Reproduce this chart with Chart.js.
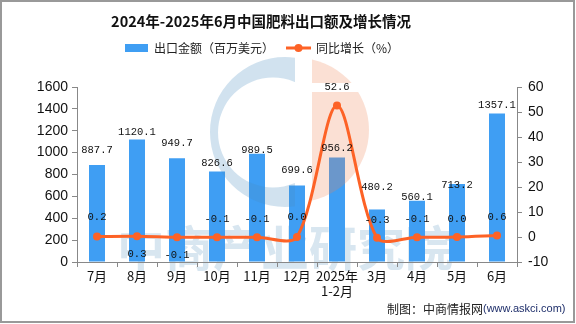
<!DOCTYPE html>
<html>
<head>
<meta charset="utf-8">
<script src="https://cdn.jsdelivr.net/npm/chart.js@4.4.1/dist/chart.umd.min.js"></script>
<style>
  html, body { margin: 0; padding: 0; background: #fff; }
  #wrap { width: 576px; height: 324px; }
</style>
</head>
<body>
<div id="wrap"><canvas id="myChart" width="576" height="324"></canvas></div>
<script>
// data
const months = ["7月", "8月", "9月", "10月", "11月", "12月", ["2025年", "1-2月"], "3月", "4月", "5月", "6月"];
const exportValue = [887.7, 1120.1, 949.7, 826.6, 989.5, 699.6, 956.2, 480.2, 560.1, 713.2, 1357.1];
const growthRate = [0.2, 0.3, -0.1, -0.1, -0.1, 0.0, 52.6, -0.3, -0.1, 0.0, 0.6];
const leftTicks = [0, 200, 400, 600, 800, 1000, 1200, 1400, 1600];
const rightTicks = [-10, 0, 10, 20, 30, 40, 50, 60];

// label placement (pixels, relative to the mark) - styling only
const barLabelShift = [-15, -7, -15, -8, -4, -15, -9, -22, -4, 1, -8];
const lineLabelShift = [-19, 18, 18, -18, -18, -20, -18, -18, -18, -18, -18];

const BAR_COLOR = "#3f9ef3";
const LINE_COLOR = "#fd6226";
const AXIS_COLOR = "#888";
const cjk = "'Noto Sans CJK SC', sans-serif";

function drawLogo(ctx) {
  ctx.save();
  ctx.globalAlpha = 0.25;
  //blue crescent, left part
  ctx.save();
  ctx.beginPath();
  ctx.rect(0, 0, 295, 324);
  ctx.clip();
  ctx.beginPath();
  ctx.moveTo(360, 132);
  ctx.arc(285, 132, 75, 0, Math.PI * 2);
  ctx.moveTo(328, 132.5);
  ctx.arc(273, 132.5, 55, 0, Math.PI * 2);
  ctx.fillStyle = "rgb(70,140,190)";
  ctx.fill("evenodd");
  ctx.restore();
  //orange half, right part with a white stripe
  ctx.beginPath();
  ctx.rect(312, 0, 264, 83);
  ctx.rect(312, 92, 264, 232);
  ctx.clip();
  ctx.beginPath();
  ctx.arc(297, 130, 72, 0, Math.PI * 2);
  ctx.fillStyle = "rgb(239,131,83)";
  ctx.fill();
  ctx.restore();
}

const backgroundPlugin = {
  id: "background",
  beforeDraw: (chart) => {
    const ctx = chart.ctx;
    ctx.save();
    ctx.fillStyle = "#fff";
    ctx.fillRect(0, 0, chart.width, chart.height);
    // watermark text sits behind everything
    ctx.font = "bold 48px " + cjk;
    ctx.fillStyle = "#d8e6f0";
    ctx.textAlign = "center";
    ctx.textBaseline = "middle";
    ctx.fillText("中商产业研究院", 285, 248);
    ctx.restore();
  },
  afterDatasetDraw: (chart, args) => {
    // logo goes over the bars but under the line
    if (args.meta.type === "bar") drawLogo(chart.ctx);
  },
};

const labelPlugin = {
  id: "valueLabels",
  afterDatasetsDraw: (chart) => {
    const ctx = chart.ctx;
    ctx.save();
    ctx.font = "10.5px 'Liberation Mono', monospace";
    ctx.fillStyle = "#111";
    ctx.textAlign = "center";
    ctx.textBaseline = "middle";
    chart.getDatasetMeta(1).data.forEach((bar, i) => {
      ctx.fillText(exportValue[i].toFixed(1), bar.x, bar.y + barLabelShift[i]);
    });
    chart.getDatasetMeta(0).data.forEach((pt, i) => {
      ctx.fillText(growthRate[i].toFixed(1), pt.x, pt.y + lineLabelShift[i]);
    });
    ctx.restore();
  },
  afterDraw: (chart) => {
    const ctx = chart.ctx;
    ctx.save();
    //title
    ctx.fillStyle = "#111";
    ctx.textAlign = "center";
    ctx.textBaseline = "middle";
    ctx.font = "bold 14.5px " + cjk;
    ctx.fillText("2024年-2025年6月中国肥料出口额及增长情况", 261, 21);

    //legend
    ctx.textAlign = "left";
    ctx.font = "12px " + cjk;
    ctx.fillStyle = BAR_COLOR;
    ctx.fillRect(125, 44, 23, 8);
    ctx.fillStyle = "#222";
    ctx.fillText("出口金额（百万美元）", 154, 48.5);
    ctx.strokeStyle = LINE_COLOR;
    ctx.lineWidth = 3;
    ctx.beginPath();
    ctx.moveTo(286, 48);
    ctx.lineTo(311, 48);
    ctx.stroke();
    ctx.fillStyle = LINE_COLOR;
    ctx.beginPath();
    ctx.arc(298.5, 48, 4, 0, Math.PI * 2);
    ctx.fill();
    ctx.fillStyle = "#222";
    ctx.fillText("同比增长（%）", 316, 48.5);

    //source line
    ctx.font = "12px " + cjk;
    ctx.fillText("制图：中商情报网", 387, 309);
    const w = ctx.measureText("制图：中商情报网").width;
    ctx.font = "11px 'Liberation Sans', sans-serif";
    ctx.fillStyle = "#1f2f6b";
    ctx.fillText("(www.askci.com)", 387 + w, 309);

    //frame
    ctx.strokeStyle = "#999";
    ctx.lineWidth = 2;
    ctx.strokeRect(1, 1, 573, 321);
    ctx.restore();
  },
};

const ctx = document.getElementById("myChart");

new Chart(ctx, {
  type: "bar",
  plugins: [backgroundPlugin, labelPlugin],
  data: {
    labels: months,
    datasets: [
      {
        type: "line",
        label: "同比增长（%）",
        data: growthRate,
        yAxisID: "y1",
        borderColor: LINE_COLOR,
        backgroundColor: LINE_COLOR,
        borderWidth: 3,
        pointRadius: 4,
        pointBackgroundColor: LINE_COLOR,
        pointBorderWidth: 0,
        tension: 0.3,
        order: 0,
      },
      {
        type: "bar",
        label: "出口金额（百万美元）",
        data: exportValue,
        yAxisID: "y",
        backgroundColor: BAR_COLOR,
        barPercentage: 0.4,
        categoryPercentage: 1.0,
        order: 1,
      },
    ],
  },
  options: {
    responsive: false,
    devicePixelRatio: 1,
    animation: false,
    layout: { padding: { top: 87, left: 0, right: 0, bottom: 0 } },
    plugins: {
      legend: { display: false },
      title: { display: false },
      tooltip: { enabled: false },
    },
    scales: {
      x: {
        grid: { drawOnChartArea: false, drawTicks: true, tickLength: 5, color: AXIS_COLOR, offset: true },
        border: { color: AXIS_COLOR },
        ticks: { color: "#111", font: { family: cjk, size: 13, lineHeight: 1.15 }, padding: 2, maxRotation: 0, autoSkip: false },
        afterFit: (scale) => { scale.height = 62; },
      },
      y: {
        position: "left",
        min: 0,
        max: 1600,
        afterBuildTicks: (scale) => { scale.ticks = leftTicks.map((v) => ({ value: v })); },
        grid: { drawOnChartArea: false, drawTicks: true, tickLength: 5, color: AXIS_COLOR },
        border: { color: AXIS_COLOR },
        ticks: {
          color: "#111",
          font: { family: "'Liberation Sans', Arial, sans-serif", size: 14 },
          padding: 4,
          callback: (v) => String(v),
        },
        afterFit: (scale) => { scale.width = 77; },
      },
      y1: {
        position: "right",
        min: -10,
        max: 60,
        afterBuildTicks: (scale) => { scale.ticks = rightTicks.map((v) => ({ value: v })); },
        grid: { drawOnChartArea: false, drawTicks: true, tickLength: 5, color: AXIS_COLOR },
        border: { color: AXIS_COLOR },
        ticks: {
          color: "#111",
          font: { family: "'Liberation Sans', Arial, sans-serif", size: 14 },
          padding: 6,
          callback: (v) => String(v),
        },
        afterFit: (scale) => { scale.width = 59; },
      },
    },
  },
});
</script>
</body>
</html>
